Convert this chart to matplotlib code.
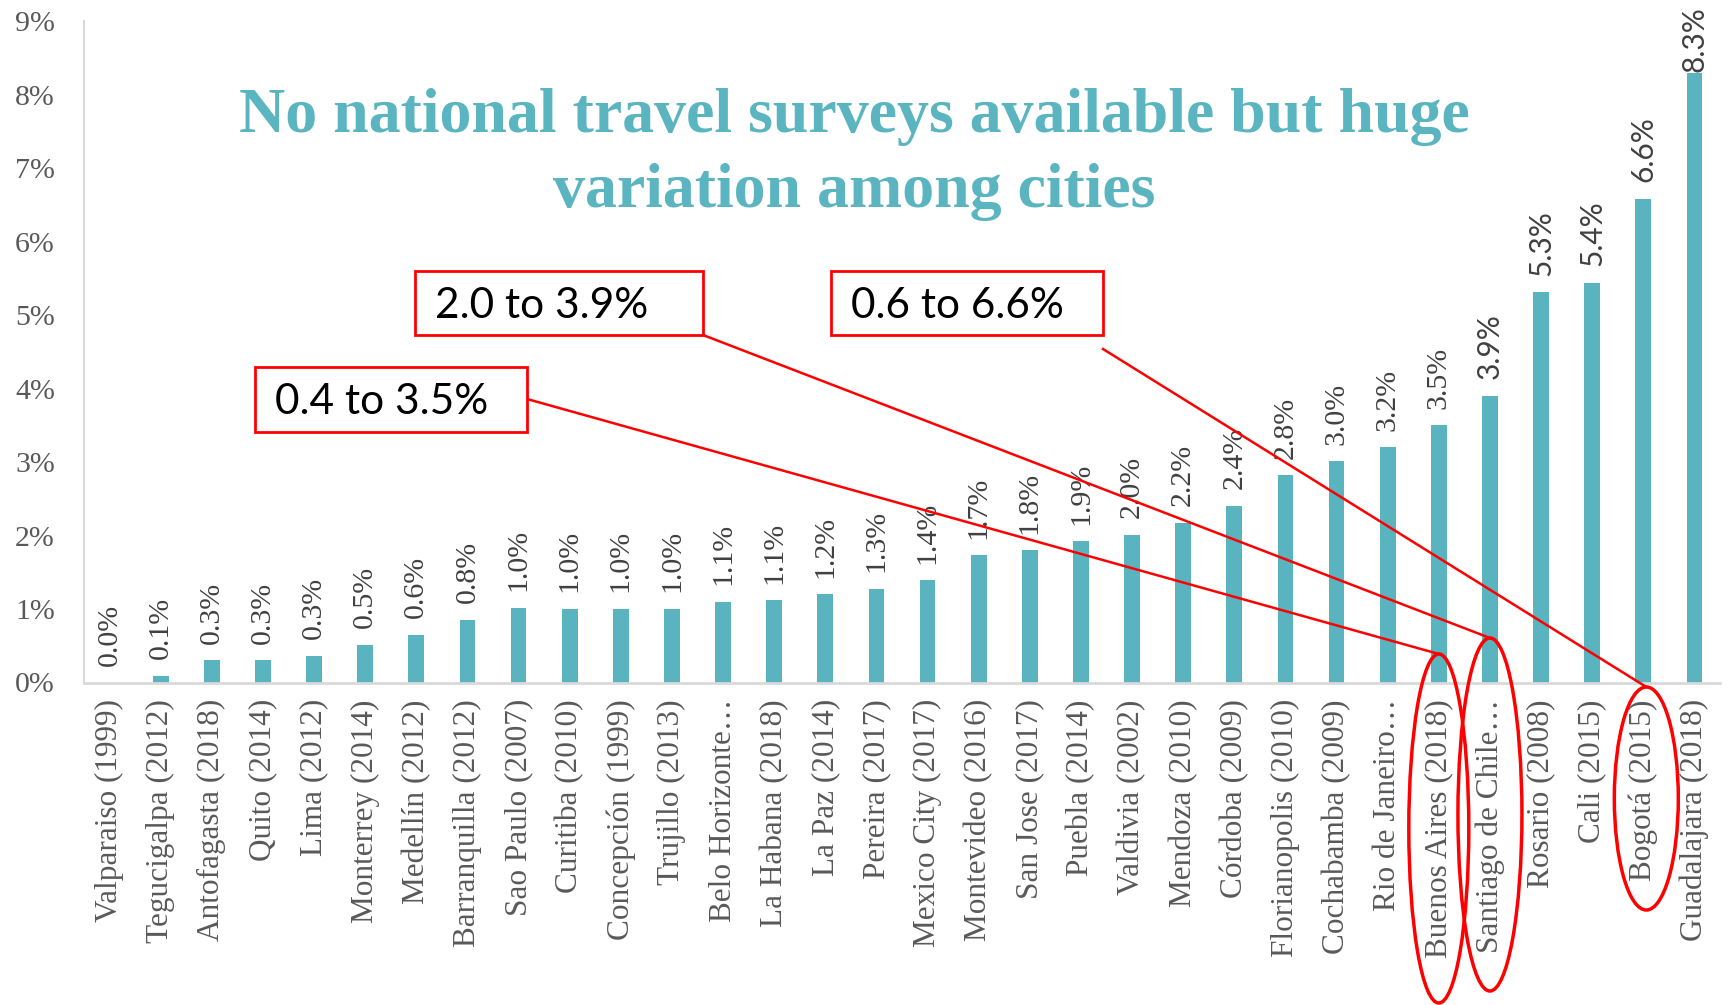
import matplotlib
matplotlib.use("Agg")
import matplotlib.pyplot as plt
from matplotlib.patches import Rectangle, Ellipse
from matplotlib.lines import Line2D

# Share of trips by bicycle, per city (survey year)
cities = [
    "Valparaiso (1999)", "Tegucigalpa (2012)", "Antofagasta (2018)", "Quito (2014)",
    "Lima (2012)", "Monterrey (2014)", "Medellín (2012)", "Barranquilla (2012)",
    "Sao Paulo (2007)", "Curitiba (2010)", "Concepción (1999)", "Trujillo (2013)",
    "Belo Horizonte…", "La Habana (2018)", "La Paz (2014)", "Pereira (2017)",
    "Mexico City (2017)", "Montevideo (2016)", "San Jose (2017)", "Puebla (2014)",
    "Valdivia (2002)", "Mendoza (2010)", "Córdoba (2009)", "Florianopolis (2010)",
    "Cochabamba (2009)", "Rio de Janeiro…", "Buenos Aires (2018)", "Santiago de Chile…",
    "Rosario (2008)", "Cali (2015)", "Bogotá (2015)", "Guadalajara (2018)",
]
shares = [
    0.0, 0.09, 0.3, 0.3, 0.36, 0.51, 0.65, 0.85,
    1.02, 1.0, 1.0, 1.0, 1.1, 1.12, 1.2, 1.27,
    1.39, 1.73, 1.8, 1.92, 2.01, 2.17, 2.4, 2.82,
    3.01, 3.2, 3.5, 3.9, 5.31, 5.44, 6.58, 8.29,
]
share_labels = [
    "0.0%", "0.1%", "0.3%", "0.3%", "0.3%", "0.5%", "0.6%", "0.8%",
    "1.0%", "1.0%", "1.0%", "1.0%", "1.1%", "1.1%", "1.2%", "1.3%",
    "1.4%", "1.7%", "1.8%", "1.9%", "2.0%", "2.2%", "2.4%", "2.8%",
    "3.0%", "3.2%", "3.5%", "3.9%", "5.3%", "5.4%", "6.6%", "8.3%",
]
ytick_values = list(range(10))

# callouts: text, city the ellipse marks
callout_texts = ["0.4 to 3.5%", "2.0 to 3.9%", "0.6 to 6.6%"]
callout_cities = ["Buenos Aires (2018)", "Santiago de Chile…", "Bogotá (2015)"]

TEAL = "#59B4BF"
TITLE_C = "#5BB5C0"
RED = "#FF0000"
SERIF = ["Liberation Serif", "DejaVu Serif"]

W, H = 1728, 1005


def fx(px):
    return px / W


def fy(py):
    return 1 - py / H


fig = plt.figure(figsize=(W / 100, H / 100), dpi=100)
ax = fig.add_axes([fx(84), fy(682.5), (1720 - 84) / W, (682.5 - 21) / H])

xpos = list(range(len(cities)))
ax.bar(xpos, shares, width=0.31, color=TEAL, zorder=2)
ax.set_xlim(-0.5, len(cities) - 0.5)
ax.set_ylim(0, 9)

ax.set_yticks(ytick_values)
ax.set_yticklabels([f"{v}%" for v in ytick_values], family=SERIF,
                   fontsize=21.5, color="#595959")
ax.set_xticks(xpos)
ax.set_xticklabels(cities, rotation=90, family=SERIF, fontsize=22.5,
                   color="#595959")
ax.tick_params(axis="x", length=0, pad=12)
ax.tick_params(axis="y", length=0, pad=21)

for side in ["top", "right"]:
    ax.spines[side].set_visible(False)
ax.spines["left"].set_color("#D9D9D9")
ax.spines["bottom"].set_color("#D9D9D9")
ax.spines["left"].set_linewidth(1.5)
ax.spines["bottom"].set_linewidth(2)

# value labels above bars (the top few use a sans face, as in the source);
# the tallest one is pushed down so it stays inside the picture
for i, (v, lab) in enumerate(zip(shares, share_labels)):
    fam = ["Lato", "DejaVu Sans"] if i >= 27 else SERIF
    off = 12 if v < 8 else 1
    ax.annotate(lab, (i, v), xytext=(0, off), textcoords="offset points",
                rotation=90, ha="center", va="bottom", fontsize=21.5,
                family=fam, color="#404040", annotation_clip=False)

# title
fig.text(fx(854), fy(132), "No national travel surveys available but huge",
         ha="center", va="baseline", fontsize=46, fontweight="bold",
         family=SERIF, color=TITLE_C)
fig.text(fx(854), fy(207), "variation among cities",
         ha="center", va="baseline", fontsize=46, fontweight="bold",
         family=SERIF, color=TITLE_C)

# callout boxes (x0, y0, x1, y1 in pixels), line starts, ellipse top/bottom
boxes = [(255, 367, 527, 432), (415, 271, 703, 335), (831, 271, 1103, 335)]
line_starts = [(527, 399), (703, 335), (1103, 349)]
ell_spans = [(654, 1003), (638, 991), (687, 910)]
ell_halfw = [30, 32, 32]

fig.canvas.draw()
for txt, city, (x0, y0, x1, y1), (sx, sy), (et, eb), hw in zip(
        callout_texts, callout_cities, boxes, line_starts, ell_spans, ell_halfw):
    fig.add_artist(Rectangle((fx(x0), fy(y1)), (x1 - x0) / W, (y1 - y0) / H,
                             transform=fig.transFigure, facecolor="white",
                             edgecolor=RED, linewidth=2, zorder=5))
    fig.text(fx(x0 + 20), fy((y0 + y1) / 2 + 3), txt, ha="left", va="center",
             fontsize=30.5, family=["Lato", "DejaVu Sans"], color="black",
             zorder=6)
    # ellipse centred under the marked bar
    bx = ax.transData.transform((cities.index(city), 0))[0]
    cx = bx + (3 if city.startswith("Bogot") else 0)
    fig.add_artist(Line2D([fx(sx), fx(cx)], [fy(sy), fy(et)],
                          transform=fig.transFigure, color=RED,
                          linewidth=1.8, zorder=4))
    fig.add_artist(Ellipse((fx(cx), fy((et + eb) / 2)), 2 * hw / W,
                           (eb - et) / H, transform=fig.transFigure,
                           fill=False, edgecolor=RED, linewidth=2.5,
                           zorder=4))

fig.savefig("out.png", dpi=100)
